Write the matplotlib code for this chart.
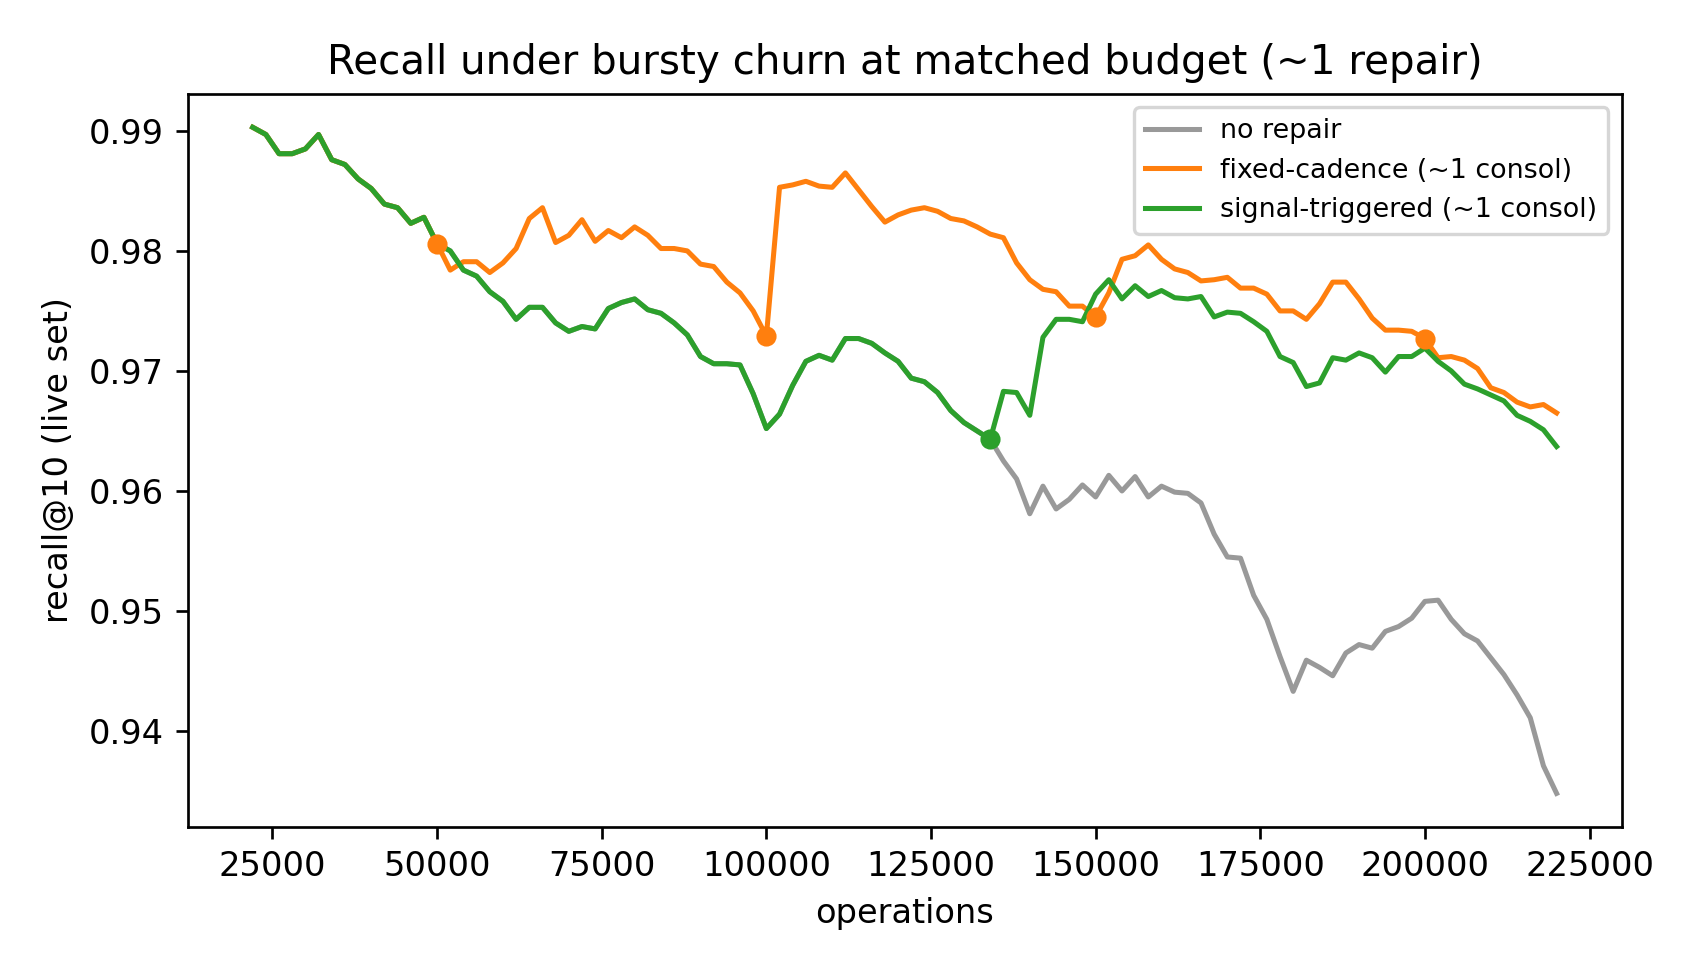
import matplotlib
matplotlib.use("Agg")
import matplotlib.pyplot as plt
import numpy as np

# operations, sampled every 2000
ops = np.arange(22000, 220001, 2000)

# signal-triggered (~1 consol)
signal = [
    0.9903, 0.9897, 0.9881, 0.9881, 0.9885, 0.9897, 0.9876, 0.9872, 0.9860, 0.9852,
    0.9839, 0.9836, 0.9823, 0.9828, 0.9806, 0.9800, 0.9784, 0.9779, 0.9766, 0.9758,
    0.9743, 0.9753, 0.9753, 0.9740, 0.9733, 0.9737, 0.9735, 0.9752, 0.9757, 0.9760,
    0.9751, 0.9748, 0.9740, 0.9730, 0.9712, 0.9706, 0.9706, 0.9705, 0.9681, 0.9652,
    0.9664, 0.9688, 0.9708, 0.9713, 0.9709, 0.9727, 0.9727, 0.9723, 0.9715, 0.9708,
    0.9694, 0.9691, 0.9682, 0.9667, 0.9657, 0.9650, 0.9643, 0.9683, 0.9682, 0.9663,
    0.9728, 0.9743, 0.9743, 0.9741, 0.9764, 0.9776, 0.9760, 0.9771, 0.9762, 0.9767,
    0.9761, 0.9760, 0.9762, 0.9745, 0.9749, 0.9748, 0.9741, 0.9733, 0.9712, 0.9707,
    0.9687, 0.9690, 0.9711, 0.9709, 0.9715, 0.9711, 0.9699, 0.9712, 0.9712, 0.9719,
    0.9708, 0.9700, 0.9689, 0.9685, 0.9680, 0.9675, 0.9663, 0.9658, 0.9651, 0.9637,
]

# fixed-cadence (~1 consol)
fixed = [
    0.9903, 0.9897, 0.9881, 0.9881, 0.9885, 0.9897, 0.9876, 0.9872, 0.9860, 0.9852,
    0.9839, 0.9836, 0.9823, 0.9828, 0.9806, 0.9784, 0.9791, 0.9791, 0.9782, 0.9790,
    0.9802, 0.9827, 0.9836, 0.9807, 0.9813, 0.9826, 0.9808, 0.9817, 0.9811, 0.9820,
    0.9813, 0.9802, 0.9802, 0.9800, 0.9789, 0.9787, 0.9774, 0.9765, 0.9750, 0.9729,
    0.9853, 0.9855, 0.9858, 0.9854, 0.9853, 0.9865, 0.9851, 0.9837, 0.9824, 0.9830,
    0.9834, 0.9836, 0.9833, 0.9827, 0.9825, 0.9820, 0.9814, 0.9811, 0.9790, 0.9776,
    0.9768, 0.9766, 0.9754, 0.9754, 0.9745, 0.9765, 0.9793, 0.9796, 0.9805, 0.9793,
    0.9785, 0.9782, 0.9775, 0.9776, 0.9778, 0.9769, 0.9769, 0.9764, 0.9750, 0.9750,
    0.9743, 0.9756, 0.9774, 0.9774, 0.9760, 0.9744, 0.9734, 0.9734, 0.9733, 0.9727,
    0.9711, 0.9712, 0.9709, 0.9702, 0.9686, 0.9682, 0.9674, 0.9670, 0.9672, 0.9665,
]

# no repair
no_repair = [
    0.9903, 0.9897, 0.9881, 0.9881, 0.9885, 0.9897, 0.9876, 0.9872, 0.9860, 0.9852,
    0.9839, 0.9836, 0.9823, 0.9828, 0.9806, 0.9800, 0.9784, 0.9779, 0.9766, 0.9758,
    0.9743, 0.9753, 0.9753, 0.9740, 0.9733, 0.9737, 0.9735, 0.9752, 0.9757, 0.9760,
    0.9751, 0.9748, 0.9740, 0.9730, 0.9712, 0.9706, 0.9706, 0.9705, 0.9681, 0.9652,
    0.9664, 0.9688, 0.9708, 0.9713, 0.9709, 0.9727, 0.9727, 0.9723, 0.9715, 0.9708,
    0.9694, 0.9691, 0.9682, 0.9667, 0.9657, 0.9650, 0.9643, 0.9625, 0.9610, 0.9581,
    0.9604, 0.9585, 0.9593, 0.9605, 0.9595, 0.9613, 0.9600, 0.9612, 0.9595, 0.9604,
    0.9599, 0.9598, 0.9590, 0.9564, 0.9545, 0.9544, 0.9513, 0.9493, 0.9462, 0.9433,
    0.9459, 0.9453, 0.9446, 0.9465, 0.9472, 0.9469, 0.9483, 0.9487, 0.9494, 0.9508,
    0.9509, 0.9493, 0.9481, 0.9475, 0.9461, 0.9447, 0.9430, 0.9411, 0.9371, 0.9348,
]

# where repairs happened
fixed_repairs = [50000, 100000, 150000, 200000]
signal_repairs = [134000]

DPI = 242
fig, ax = plt.subplots(figsize=(1700 / DPI, 975 / DPI), dpi=DPI)
fig.subplots_adjust(left=0.1103, right=0.954, top=0.9036, bottom=0.1521)

ax.plot(ops, no_repair, color='0.6', label='no repair')
ax.plot(ops, fixed, color='C1', label='fixed-cadence (~1 consol)')
ax.plot(ops, signal, color='C2', label='signal-triggered (~1 consol)')

# repair points
fixed_idx = [list(ops).index(r) for r in fixed_repairs]
signal_idx = [list(ops).index(r) for r in signal_repairs]
ax.plot(ops[fixed_idx], np.array(fixed)[fixed_idx], 'o', color='C1', ms=5)
ax.plot(ops[signal_idx], np.array(signal)[signal_idx], 'o', color='C2', ms=5)

ax.set_title('Recall under bursty churn at matched budget (~1 repair)')
ax.set_xlabel('operations')
ax.set_ylabel('recall@10 (live set)')
ax.legend(loc='upper right', fontsize=8)

fig.savefig('out.png', dpi=DPI)
